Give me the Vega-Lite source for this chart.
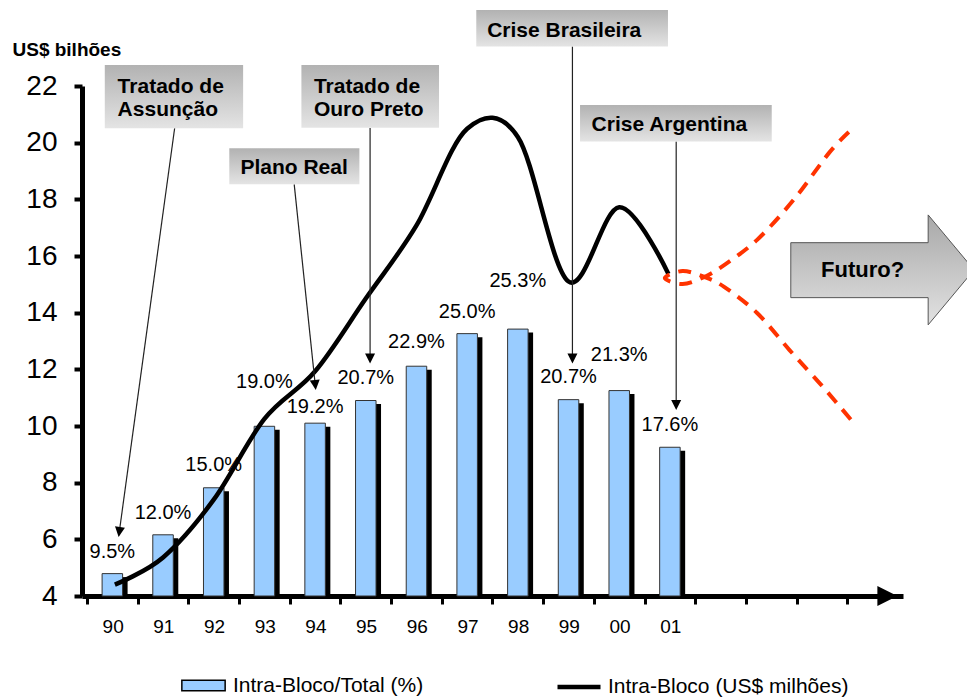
{
  "$schema": "https://vega.github.io/schema/vega-lite/v6.json",
  "width": 821,
  "height": 510,
  "autosize": {"type": "none"},
  "padding": {"left": 82, "top": 86, "right": 64, "bottom": 104},
  "background": "white",
  "config": {
    "view": {"stroke": null},
    "font": "Liberation Sans",
    "text": {"font": "Liberation Sans", "color": "#000"}
  },
  "datasets": {
    "bars": [
      {"x": 0.5, "y": 4.79, "p": "9.5%", "ly": 5.54},
      {"x": 1.5, "y": 6.16, "p": "12.0%", "ly": 6.92},
      {"x": 2.5, "y": 7.82, "p": "15.0%", "ly": 8.62},
      {"x": 3.5, "y": 9.99, "p": "19.0%", "ly": 11.54},
      {"x": 4.5, "y": 10.10, "p": "19.2%", "ly": 10.68},
      {"x": 5.5, "y": 10.90, "p": "20.7%", "ly": 11.70},
      {"x": 6.5, "y": 12.11, "p": "22.9%", "ly": 12.95},
      {"x": 7.5, "y": 13.26, "p": "25.0%", "ly": 14.01},
      {"x": 8.5, "y": 13.42, "p": "25.3%", "ly": 15.12},
      {"x": 9.5, "y": 10.93, "p": "20.7%", "ly": 11.73},
      {"x": 10.5, "y": 11.25, "p": "21.3%", "ly": 12.51},
      {"x": 11.5, "y": 9.25, "p": "17.6%", "ly": 10.05}
    ],
    "line": [
      {"x": 0.55, "y": 4.4},
      {"x": 1.5, "y": 5.36},
      {"x": 2.5, "y": 7.4},
      {"x": 3.5, "y": 10.25},
      {"x": 4.5, "y": 11.93},
      {"x": 5.5, "y": 14.5},
      {"x": 6.5, "y": 17.08},
      {"x": 7.5, "y": 20.49},
      {"x": 8.5, "y": 20.2},
      {"x": 9.5, "y": 15.1},
      {"x": 10.5, "y": 17.72},
      {"x": 11.47, "y": 15.37}
    ],
    "future": [
      {"o": 1, "x": 15.03, "y": 20.38},
      {"o": 2, "x": 14.64, "y": 19.64},
      {"o": 3, "x": 13.94, "y": 17.98},
      {"o": 4, "x": 13.22, "y": 16.57},
      {"o": 5, "x": 12.57, "y": 15.68},
      {"o": 6, "x": 12.18, "y": 15.26},
      {"o": 7, "x": 11.75, "y": 15.01},
      {"o": 8, "x": 11.40, "y": 15.22},
      {"o": 9, "x": 11.75, "y": 15.47},
      {"o": 10, "x": 12.18, "y": 15.26},
      {"o": 11, "x": 12.57, "y": 14.91},
      {"o": 12, "x": 13.22, "y": 13.99},
      {"o": 13, "x": 13.86, "y": 12.68},
      {"o": 14, "x": 14.52, "y": 11.38},
      {"o": 15, "x": 15.11, "y": 10.14}
    ],
    "arrows": [
      {"x": 1.729, "y": 20.51, "x2": 0.637, "y2": 6.26},
      {"x": 4.088, "y": 18.53, "x2": 4.503, "y2": 11.45},
      {"x": 5.585, "y": 20.52, "x2": 5.585, "y2": 12.38},
      {"x": 9.577, "y": 23.39, "x2": 9.577, "y2": 12.38},
      {"x": 11.624, "y": 20.04, "x2": 11.624, "y2": 10.74}
    ],
    "heads": [
      {"x": 0.637, "y": 6.26, "a": 7.8},
      {"x": 4.503, "y": 11.45, "a": -6},
      {"x": 5.585, "y": 12.38, "a": 0},
      {"x": 9.577, "y": 12.38, "a": 0},
      {"x": 11.624, "y": 10.74, "a": 0}
    ],
    "boxes": [
      {"x": 0.351, "x2": 3.080, "y": 22.74, "y2": 20.51},
      {"x": 4.230, "x2": 6.945, "y": 22.74, "y2": 20.53},
      {"x": 2.807, "x2": 5.374, "y": 19.80, "y2": 18.53},
      {"x": 7.680, "x2": 11.462, "y": 24.68, "y2": 23.39},
      {"x": 9.727, "x2": 13.509, "y": 21.33, "y2": 20.04}
    ],
    "boxtext": [
      {"x": 0.604, "y": 21.74, "t": "Tratado de"},
      {"x": 0.604, "y": 20.93, "t": "Assunção"},
      {"x": 4.477, "y": 21.74, "t": "Tratado de"},
      {"x": 4.477, "y": 20.93, "t": "Ouro Preto"},
      {"x": 3.027, "y": 18.885, "t": "Plano Real"},
      {"x": 7.895, "y": 23.74, "t": "Crise Brasileira"},
      {"x": 9.955, "y": 20.42, "t": "Crise Argentina"}
    ],
    "futuro": [
      {"x": 13.885, "y": 16.47, "y2": 14.53},
      {"x": 16.595, "y": 16.47, "y2": 14.53},
      {"x": 16.595, "y": 17.45, "y2": 13.57},
      {"x": 17.5, "y": 15.51, "y2": 15.51}
    ]
  },
  "layer": [
    {
      "data": {"name": "bars"},
      "mark": {"type": "bar", "color": "#000", "width": 20.5, "xOffset": 5, "yOffset": 3.5},
      "encoding": {
        "x": {
          "field": "x", "type": "quantitative",
          "scale": {"domain": [0, 16], "nice": false, "zero": false},
          "axis": {
            "title": null,
            "values": [0, 1, 2, 3, 4, 5, 6, 7, 8, 9, 10, 11, 12, 13, 14, 15],
            "labelExpr": "datum.value < 12 ? ['90','91','92','93','94','95','96','97','98','99','00','01'][datum.value] : ''",
            "labelOffset": 25.65,
            "grid": false,
            "domainColor": "#000", "domainWidth": 5,
            "tickColor": "#000", "tickWidth": 3, "tickSize": 8,
            "labelFontSize": 19, "labelColor": "#000", "labelFont": "Liberation Sans",
            "labelPadding": 13, "labelFlush": false, "labelOverlap": false
          }
        },
        "y": {
          "field": "y", "type": "quantitative",
          "scale": {"domain": [4, 22], "nice": false, "zero": false},
          "axis": {
            "title": "US$ bilhões",
            "titleAngle": 0, "titleAlign": "left", "titleBaseline": "alphabetic",
            "titleX": -70, "titleY": -31,
            "titleFontSize": 19, "titleFontWeight": "bold", "titleFont": "Liberation Sans", "titleColor": "#000",
            "values": [4, 6, 8, 10, 12, 14, 16, 18, 20, 22],
            "grid": false,
            "domainColor": "#000", "domainWidth": 5,
            "tickColor": "#000", "tickWidth": 4, "tickSize": 8,
            "labelFontSize": 28, "labelColor": "#000", "labelFont": "Liberation Sans",
            "labelPadding": 17, "labelFlush": false, "labelOverlap": false
          }
        },
        "y2": {"datum": 4}
      }
    },
    {
      "data": {"name": "bars"},
      "mark": {"type": "bar", "width": 20.5, "stroke": "#333", "strokeWidth": 1},
      "encoding": {
        "x": {"field": "x", "type": "quantitative"},
        "y": {"field": "y", "type": "quantitative"},
        "y2": {"datum": 4},
        "fill": {
          "datum": "Intra-Bloco/Total (%)", "type": "nominal",
          "scale": {"range": ["#99CCFF"]},
          "legend": {
            "orient": "none", "legendX": 99, "legendY": 577, "title": null, "padding": 0,
            "symbolType": "M-1,-0.245H1V0.245H-1Z", "symbolSize": 1875,
            "symbolStrokeColor": "#000", "symbolStrokeWidth": 1.5,
            "labelFontSize": 21, "labelFont": "Liberation Sans", "labelColor": "#000", "labelOffset": 7,
            "labelLimit": 0
          }
        }
      }
    },
    {
      "data": {"name": "bars"},
      "mark": {"type": "text", "fontSize": 20, "align": "center", "baseline": "middle", "color": "#000"},
      "encoding": {
        "x": {"field": "x", "type": "quantitative"},
        "y": {"field": "ly", "type": "quantitative"},
        "text": {"field": "p"}
      }
    },
    {
      "data": {"name": "line"},
      "mark": {"type": "line", "strokeWidth": 4.5, "interpolate": "cardinal"},
      "encoding": {
        "x": {"field": "x", "type": "quantitative"},
        "y": {"field": "y", "type": "quantitative"},
        "stroke": {
          "datum": "Intra-Bloco (US$ milhões)", "type": "nominal",
          "scale": {"range": ["#000"]},
          "legend": {
            "orient": "none", "legendX": 473, "legendY": 577, "title": null, "padding": 0,
            "symbolType": "stroke", "symbolSize": 1849, "symbolStrokeWidth": 4.5,
            "labelFontSize": 21, "labelFont": "Liberation Sans", "labelColor": "#000", "labelOffset": 5,
            "labelLimit": 0
          }
        }
      }
    },
    {
      "data": {"name": "future"},
      "mark": {"type": "line", "color": "#FF3300", "strokeWidth": 4, "strokeDash": [13, 9], "interpolate": "cardinal"},
      "encoding": {
        "x": {"field": "x", "type": "quantitative"},
        "y": {"field": "y", "type": "quantitative"},
        "order": {"field": "o", "type": "quantitative"}
      }
    },
    {
      "data": {"name": "arrows"},
      "mark": {"type": "rule", "color": "#222", "strokeWidth": 1.2},
      "encoding": {
        "x": {"field": "x", "type": "quantitative"},
        "y": {"field": "y", "type": "quantitative"},
        "x2": {"field": "x2"},
        "y2": {"field": "y2"}
      }
    },
    {
      "data": {"name": "heads"},
      "mark": {"type": "point", "shape": "M-1,-1L1,-1L0,1Z", "size": 100, "filled": true, "color": "#000", "opacity": 1},
      "encoding": {
        "x": {"field": "x", "type": "quantitative"},
        "y": {"field": "y", "type": "quantitative"},
        "angle": {"field": "a", "type": "quantitative", "scale": null}
      }
    },
    {
      "data": {"name": "boxes"},
      "mark": {
        "type": "rect",
        "fill": {"gradient": "linear", "x1": 0, "y1": 0, "x2": 0, "y2": 1,
          "stops": [{"offset": 0, "color": "#b2b2b2"}, {"offset": 1, "color": "#e4e4e4"}]}
      },
      "encoding": {
        "x": {"field": "x", "type": "quantitative"},
        "x2": {"field": "x2"},
        "y": {"field": "y", "type": "quantitative"},
        "y2": {"field": "y2"}
      }
    },
    {
      "data": {"name": "boxtext"},
      "mark": {"type": "text", "fontSize": 21, "fontWeight": "bold", "align": "left", "baseline": "alphabetic", "color": "#000"},
      "encoding": {
        "x": {"field": "x", "type": "quantitative"},
        "y": {"field": "y", "type": "quantitative"},
        "text": {"field": "t"}
      }
    },
    {
      "data": {"name": "futuro"},
      "mark": {
        "type": "area", "stroke": "#555", "strokeWidth": 1,
        "fill": {"gradient": "linear", "x1": 0, "y1": 0, "x2": 0, "y2": 1,
          "stops": [{"offset": 0, "color": "#a8a8a8"}, {"offset": 1, "color": "#e2e2e2"}]}
      },
      "encoding": {
        "x": {"field": "x", "type": "quantitative"},
        "y": {"field": "y", "type": "quantitative"},
        "y2": {"field": "y2"}
      }
    },
    {
      "data": {"values": [{"x": 14.483, "y": 15.27, "t": "Futuro?"}]},
      "mark": {"type": "text", "fontSize": 22, "fontWeight": "bold", "align": "left", "baseline": "alphabetic", "color": "#000"},
      "encoding": {
        "x": {"field": "x", "type": "quantitative"},
        "y": {"field": "y", "type": "quantitative"},
        "text": {"field": "t"}
      }
    },
    {
      "data": {"values": [{"x": 15.79, "y": 4}]},
      "mark": {"type": "point", "shape": "M-1,-1L1,0L-1,1Z", "size": 400, "filled": true, "color": "#000", "opacity": 1},
      "encoding": {
        "x": {"field": "x", "type": "quantitative"},
        "y": {"field": "y", "type": "quantitative"}
      }
    }
  ]
}
